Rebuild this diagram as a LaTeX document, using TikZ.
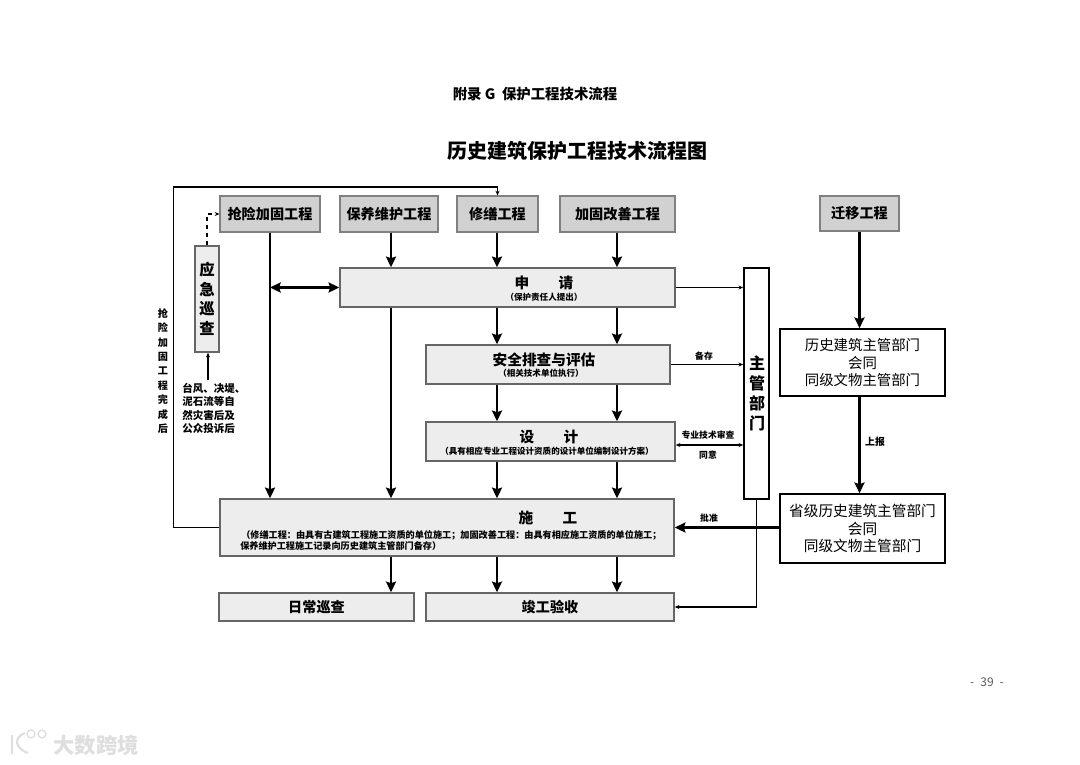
\documentclass[tikz,border=0pt]{standalone}
\usepackage{fontspec}
\setmainfont{Noto Sans CJK SC}
\usetikzlibrary{arrows.meta}
\newcommand{\blk}[7]{\node[#2, minimum width={(#5-#3)*0.75pt}, minimum height={(#6-#4)*0.75pt}] (#1) at ({(#3+#5)/2},{(#4+#6)/2}) {#7};}
\tikzset{
  greybox/.style={draw=black!50, line width=0.9pt, fill=black!18, inner sep=0pt, font=\fontsize{10.6}{12}\selectfont\bfseries},
  lightbox/.style={draw=black!60, line width=1.1pt, fill=black!7, inner sep=0pt, font=\fontsize{10.6}{12}\selectfont\bfseries},
  deptbox/.style={draw=black, line width=1.2pt, fill=white, inner sep=0pt, align=center},
  heavy/.style={line width=2.2pt, -{Stealth[length=8pt,width=7.5pt,inset=1.2pt]}},
  fine/.style={line width=0.9pt, -{Stealth[length=3.5pt,width=3pt]}},
  note/.style={inner sep=0pt, font=\fontsize{6.6}{8}\selectfont\bfseries},
  subnote/.style={inner sep=0pt, font=\fontsize{6.4}{8}\selectfont\bfseries},
  longnote/.style={inner sep=0pt, anchor=west, font=\fontsize{6.85}{8}\selectfont\bfseries},
  heading/.style={inner sep=0pt, font=\fontsize{11}{13}\selectfont\bfseries},
}
\begin{document}
\begin{tikzpicture}[x=0.75pt,y=-0.75pt]
  \useasboundingbox (0,0) rectangle (1080,764);
  % ------------------------------------------------------------ titles
  \node[inner sep=0pt, font=\fontsize{10.8}{12}\selectfont\bfseries] (appendix) at (535,94) {附录 G\ \ 保护工程技术流程};
  \node[inner sep=0pt, font=\fontsize{15}{18}\selectfont\bfseries] (title) at (577,151) {历史建筑保护工程技术流程图};
  % ------------------------------------------------------------ columns
  \coordinate (colA) at (270,0);
  \coordinate (colB) at (391,0);
  \coordinate (colC) at (497,0);
  \coordinate (colD) at (617,0);
  % ------------------------------------------------------------ boxes
  \blk{qiangxian}{greybox}{220}{196}{320}{232}{抢险加固工程}
  \blk{baoyang}{greybox}{340}{196}{438}{232}{保养维护工程}
  \blk{xiushan}{greybox}{457}{196}{538}{232}{修缮工程}
  \blk{jiagu}{greybox}{560}{196}{675}{232}{加固改善工程}
  \blk{qianyi}{greybox}{820}{196}{899}{231}{迁移工程}
  \blk{yingji}{lightbox, align=center, font=\fontsize{11.5}{14.6}\selectfont\bfseries}{195}{246}{219}{352}{应\\急\\巡\\查}
  \blk{shenqing}{lightbox}{340}{268}{675}{307}{}
  \blk{anquan}{lightbox}{426}{345}{670}{384}{}
  \blk{sheji}{lightbox}{426}{422}{675}{461}{}
  \blk{shigong}{lightbox}{220}{499}{674}{556}{}
  \blk{richang}{lightbox}{219}{593}{414}{621}{日常巡查}
  \blk{jungong}{lightbox}{426}{593}{674}{621}{竣工验收}
  \blk{zhuguan}{deptbox}{744}{268}{769}{499}{}
  \blk{lishi}{deptbox, font=\fontsize{10.8}{13.2}\selectfont}{780}{329}{945}{396}{历史建筑主管部门\\会同\\同级文物主管部门}
  \blk{shengji}{deptbox, font=\fontsize{11}{13.4}\selectfont}{780}{494}{945}{563}{省级历史建筑主管部门\\会同\\同级文物主管部门}
  % ------------------------------------------------------------ texts inside the wide boxes
  \node[heading] (shenqingT) at (544,283) {申\hspace{2em}请};
  \node[subnote] (shenqingS) at (544,297) {（保护责任人提出）};
  \node[heading] (anquanT) at (544,360) {安全排查与评估};
  \node[subnote] (anquanS) at (541,373) {（相关技术单位执行）};
  \node[heading] (shejiT) at (549,437) {设\hspace{2em}计};
  \node[subnote] (shejiS) at (547,451) {（具有相应专业工程设计资质的设计单位编制设计方案）};
  \node[heading] (shigongT) at (548,518) {施\hspace{2em}工};
  \node[longnote] (shigongS) at (241,535) {（修缮工程：由具有古建筑工程施工资质的单位施工；加固改善工程：由具有相应施工资质的单位施工；};
  \node[longnote] (shigongR) at (240,546) {保养维护工程施工记录向历史建筑主管部门备存）};
  \node[inner sep=0pt, align=center, font=\fontsize{12}{15}\selectfont\bfseries] (zhuguanT) at (757,393) {主\\管\\部\\门};
  % ------------------------------------------------------------ free labels
  \node[inner sep=0pt, align=left, font=\fontsize{7.9}{10}\selectfont\bfseries, anchor=north west] (zaihai) at (182,383) {台风、决堤、\\泥石流等自\\然灾害后及\\公众投诉后};
  \node[inner sep=0pt, align=center, font=\fontsize{7.6}{10.8}\selectfont\bfseries] (wancheng) at (163,371) {抢\\险\\加\\固\\工\\程\\完\\成\\后};
  \node[note] (beicun) at (704,356) {备存};
  \node[note] (shencha) at (708,435) {专业技术审查};
  \node[note] (tongyi) at (708,455) {同意};
  \node[note] (pizhun) at (709,518) {批准};
  \node[note, font=\fontsize{7.4}{9}\selectfont\bfseries] (shangbao) at (875,442) {上报};
  \node[inner sep=0pt, text=black!65, font=\fontsize{9}{10}\selectfont] (page) at (987,682) {-\hspace{0.5em}39\hspace{0.5em}-};
  % ------------------------------------------------------------ heavy arrows
  \draw[heavy] (colA |- qiangxian.south) -- (colA |- shigong.north);
  \draw[heavy] (colB |- baoyang.south) -- (colB |- shenqing.north);
  \draw[heavy] (colC |- xiushan.south) -- (colC |- shenqing.north);
  \draw[heavy] (colD |- jiagu.south) -- (colD |- shenqing.north);
  \draw[heavy] (colB |- shenqing.south) -- (colB |- shigong.north);
  \draw[heavy] (colC |- shenqing.south) -- (colC |- anquan.north);
  \draw[heavy] (colD |- shenqing.south) -- (colD |- anquan.north);
  \draw[heavy] (colC |- anquan.south) -- (colC |- sheji.north);
  \draw[heavy] (colD |- anquan.south) -- (colD |- sheji.north);
  \draw[heavy] (colC |- sheji.south) -- (colC |- shigong.north);
  \draw[heavy] (colD |- sheji.south) -- (colD |- shigong.north);
  \draw[heavy] (colB |- shigong.south) -- (colB |- richang.north);
  \draw[heavy] (colC |- shigong.south) -- (colC |- jungong.north);
  \draw[heavy] (colD |- shigong.south) -- (colD |- jungong.north);
  \draw[heavy, {Stealth[length=8pt,width=7.5pt,inset=1.2pt]}-{Stealth[length=8pt,width=7.5pt,inset=1.2pt]}] (colA |- shenqing.west) -- (shenqing.west);
  \draw[heavy] (qianyi.south) -- (qianyi.south |- lishi.north);
  \draw[heavy] (lishi.south -| qianyi.south) -- (qianyi.south |- shengji.north);
  \draw[heavy] (shengji.west |- shigong.east) -- (shigong.east);
  % ------------------------------------------------------------ thin arrows
  \draw[fine] (shenqing.east) -- (shenqing.east -| zhuguan.west);
  \draw[fine] (anquan.east) -- (anquan.east -| zhuguan.west);
  \draw[fine, {Stealth[length=3.5pt,width=3pt]}-{Stealth[length=3.5pt,width=3pt]}] (sheji.east |- 0,445) -- (zhuguan.west |- 0,445);
  \draw[fine] (zhuguan.south) |- (jungong.east);
  \draw[fine] (shigong.west) -- ++(-46,0) |- (174,187) -| (xiushan.north);
  \draw[fine] (208,380) -- (yingji.south -| 208,0);
  \draw[fine, dashed] (yingji.north) |- (qiangxian.west);
  % ------------------------------------------------------------ corner mark
  \node[inner sep=0pt, text=black!13, font=\fontsize{16}{18}\selectfont\bfseries] (mark) at (96,745) {大数跨境};
  \draw[black!13, line width=1.6pt] (12,735) -- (12,754);
  \draw[black!13, line width=1.6pt] (25,733) .. controls (14,737) and (14,748) .. (28,753);
  \draw[black!13, line width=1pt] (31,734) circle (4);
  \draw[black!13, line width=1pt] (42,734) circle (4);
\end{tikzpicture}
\end{document}
